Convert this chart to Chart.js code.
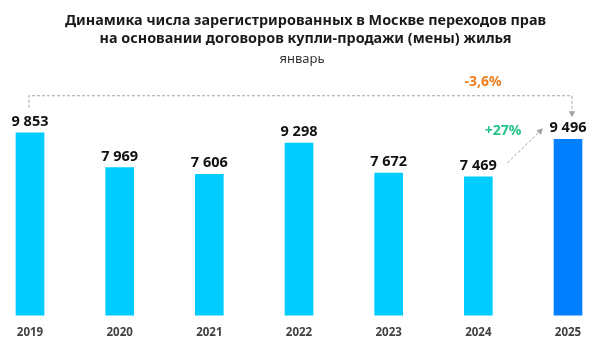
<!DOCTYPE html>
<html>
<head>
<meta charset="utf-8">
<script src="https://cdn.jsdelivr.net/npm/chart.js@4/dist/chart.umd.min.js"></script>
<style>
html,body{margin:0;padding:0;background:#fff;}
#wrap{width:600px;height:348px;}
</style>
</head>
<body>
<div id="wrap"><canvas id="c" width="600" height="348"></canvas></div>
<script>
const years = ['2019','2020','2021','2022','2023','2024','2025'];
const values = [9853, 7969, 7606, 9298, 7672, 7469, 9496];
const valueLabels = ['9 853','7 969','7 606','9 298','7 672','7 469','9 496'];
const titleLines = ['Динамика числа зарегистрированных в Москве переходов прав','на основании договоров купли-продажи (мены) жилья'];
const subtitle = 'январь';
const changeTotal = '-3,6%';
const changeLast = '+27%';

const FONT = '"Noto Sans", "Open Sans", sans-serif';
const barColors = values.map((v,i)=> i===values.length-1 ? '#0080FF' : '#00CCFF');

function arrowHead(ctx, x, y, angle, size){
  ctx.save();
  ctx.translate(x,y);
  ctx.rotate(angle);
  ctx.beginPath();
  ctx.moveTo(0,0);
  ctx.lineTo(-size, -size*0.55);
  ctx.lineTo(-size, size*0.55);
  ctx.closePath();
  ctx.fill();
  ctx.restore();
}

const overlay = {
  id:'overlay',
  afterDatasetsDraw(chart){
    const ctx = chart.ctx;
    const xs = chart.scales.x, ys = chart.scales.y;
    ctx.save();
    // title
    ctx.fillStyle = '#1a1a1a';
    ctx.textAlign = 'center';
    ctx.textBaseline = 'middle';
    ctx.font = 'bold 14.4px ' + FONT;
    ctx.fillText(titleLines[0], 305.5, 21);
    ctx.fillText(titleLines[1], 305.5, 39);
    ctx.font = '13px ' + FONT;
    ctx.fillStyle = '#333';
    ctx.fillText(subtitle, 302, 59);

    // value labels
    ctx.font = 'bold 14.5px ' + FONT;
    ctx.fillStyle = '#111';
    ctx.textBaseline = 'alphabetic';
    values.forEach((v,i)=>{
      const x = xs.getPixelForValue(i);
      const y = ys.getPixelForValue(v);
      ctx.fillText(valueLabels[i], x, y - 7);
    });

    // bracket
    const n = values.length - 1;
    const x0 = xs.getPixelForValue(0) - 1;
    const x1 = xs.getPixelForValue(n) + 4;
    const yTop = ys.getPixelForValue(values[0]) - 37;
    const yL = ys.getPixelForValue(values[0]) - 25;
    const yR = ys.getPixelForValue(values[n]) - 22;
    ctx.strokeStyle = '#a6a6a6';
    ctx.fillStyle = '#a6a6a6';
    ctx.lineWidth = 1;
    ctx.setLineDash([3,2]);
    ctx.beginPath();
    ctx.moveTo(x0, yL);
    ctx.lineTo(x0, yTop);
    ctx.lineTo(x1, yTop);
    ctx.lineTo(x1, yR - 5);
    ctx.stroke();
    ctx.setLineDash([]);
    arrowHead(ctx, x1, yR, Math.PI/2, 6);

    // arrow 2024->2025
    const ax0 = xs.getPixelForValue(n-1) + 29, ay0 = ys.getPixelForValue(values[n-1]) - 14;
    const ax1 = xs.getPixelForValue(n) - 25, ay1 = ys.getPixelForValue(values[n]) - 11;
    const ang = Math.atan2(ay1-ay0, ax1-ax0);
    ctx.setLineDash([3,2]);
    ctx.beginPath();
    ctx.moveTo(ax0, ay0);
    ctx.lineTo(ax1 - 5*Math.cos(ang), ay1 - 5*Math.sin(ang));
    ctx.stroke();
    ctx.setLineDash([]);
    arrowHead(ctx, ax1, ay1, ang, 6);

    // change labels
    ctx.textBaseline = 'middle';
    ctx.font = 'bold 14px ' + FONT;
    ctx.fillStyle = '#F07D1E';
    ctx.fillText(changeTotal, 483, yTop - 14);
    ctx.fillStyle = '#22C487';
    ctx.fillText(changeLast, 503, ys.getPixelForValue(values[n-1]) - 46);
    ctx.restore();
  }
};

new Chart(document.getElementById('c'), {
  type:'bar',
  data:{
    labels: years,
    datasets:[{
      data: values,
      backgroundColor: barColors,
      barThickness: 28,
      clip: false,
      borderWidth: 0
    }]
  },
  options:{
    responsive:false,
    animation:false,
    events:[],
    layout:{padding:{left:30, right:32, top:93, bottom:5}},
    plugins:{legend:{display:false}, tooltip:{enabled:false}, title:{display:false}},
    scales:{
      x:{
        offset:false,
        grid:{display:false},
        border:{display:false},
        ticks:{padding:3, color:'#404040', font:{family:FONT, size:11.5, weight:'bold'}, maxRotation:0, autoSkip:false}
      },
      y:{display:false, min:0, max:12000}
    }
  },
  plugins:[overlay]
});
</script>
</body>
</html>
